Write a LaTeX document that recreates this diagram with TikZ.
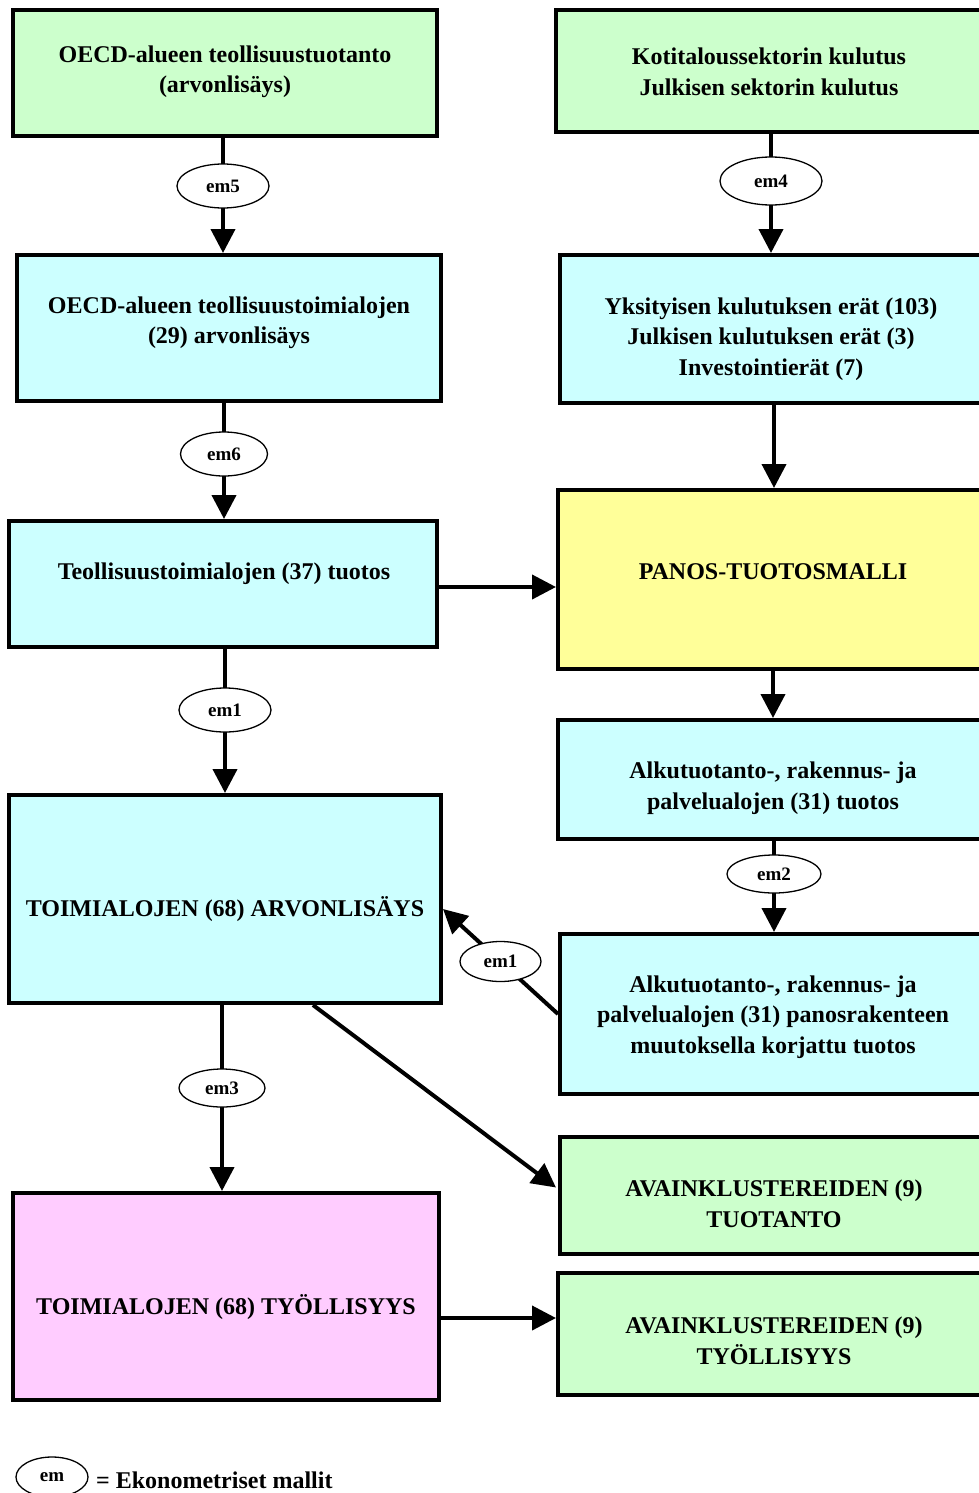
\documentclass[tikz,border=0pt]{standalone}
\usepackage{fontspec}
\setmainfont{Liberation Serif}
\usetikzlibrary{arrows.meta,shapes.geometric,calc}
\definecolor{cgreen}{HTML}{CCFFCC}
\definecolor{ccyan}{HTML}{CCFFFF}
\definecolor{cyellow}{HTML}{FFFF99}
\definecolor{cpink}{HTML}{FFCCFF}
\tikzset{
  box/.style={draw=black, line width=4pt, rectangle, inner sep=0pt},
  txt/.style={align=center, font=\fontsize{24}{30.5}\selectfont\bfseries, inner sep=0pt},
  emnode/.style={draw=black, line width=1.3pt, fill=white, ellipse, inner sep=0pt, font=\fontsize{19}{22}\selectfont\bfseries},
  arr/.style={line width=4pt, -{Triangle[length=24pt,width=24pt]}},
}
\begin{document}
\begin{tikzpicture}[x=1pt,y=-1pt]
\useasboundingbox (0,0) rectangle (979,1493);
\clip (0,0) rectangle (979,1493);
\fill[white] (0,0) rectangle (979,1493);
% boxes
\node[box, fill=cgreen, minimum width=424, minimum height=126] (b1) at (225,73) {};
\node[box, fill=cgreen, minimum width=428, minimum height=122] (b2) at (770,71) {};
\node[box, fill=ccyan, minimum width=424, minimum height=146] (b3) at (229,328) {};
\node[box, fill=ccyan, minimum width=424, minimum height=148] (b4) at (772,329) {};
\node[box, fill=ccyan, minimum width=428, minimum height=126] (b5) at (223,584) {};
\node[box, fill=cyellow, minimum width=426, minimum height=179] (b6) at (771,579.5) {};
\node[box, fill=ccyan, minimum width=426, minimum height=119] (b7) at (771,779.5) {};
\node[box, fill=ccyan, minimum width=432, minimum height=208] (b8) at (225,899) {};
\node[box, fill=ccyan, minimum width=424, minimum height=160] (b9) at (772,1014) {};
\node[box, fill=cgreen, minimum width=424, minimum height=117] (b10) at (772,1195.5) {};
\node[box, fill=cpink, minimum width=426, minimum height=207] (b11) at (226,1296.5) {};
\node[box, fill=cgreen, minimum width=426, minimum height=122] (b12) at (771,1334) {};
% texts
\node[txt] (t1) at (225,72) {OECD-alueen teollisuustuotanto\\(arvonlisäys)};
\node[txt] (t2) at (769,72) {Kotitaloussektorin kulutus\\Julkisen sektorin kulutus};
\node[txt] (t3) at (229,323) {OECD-alueen teollisuustoimialojen\\(29) arvonlisäys};
\node[txt] (t4) at (771,339) {Yksityisen kulutuksen erät (103)\\Julkisen kulutuksen erät (3)\\Investointierät (7)};
\node[txt] (t5) at (224,574) {Teollisuustoimialojen (37) tuotos};
\node[txt] (t6) at (773,572) {PANOS-TUOTOSMALLI};
\node[txt] (t7) at (773,788) {Alkutuotanto-, rakennus- ja\\palvelualojen (31) tuotos};
\node[txt] (t8) at (225,909) {TOIMIALOJEN (68) ARVONLISÄYS};
\node[txt] (t9) at (773,1017) {Alkutuotanto-, rakennus- ja\\palvelualojen (31) panosrakenteen\\muutoksella korjattu tuotos};
\node[txt] (t10) at (774,1204) {AVAINKLUSTEREIDEN (9)\\TUOTANTO};
\node[txt] (t11) at (226,1307) {TOIMIALOJEN (68) TYÖLLISYYS};
\node[txt] (t12) at (774,1341) {AVAINKLUSTEREIDEN (9)\\TYÖLLISYYS};
% ellipse positions
\coordinate (c5) at (223,186);
\coordinate (c4) at (771,181);
\coordinate (c6) at (224,454);
\coordinate (c1a) at (225,710);
\coordinate (c2) at (774,874);
\coordinate (c3) at (222,1088);
% connectors
\draw[arr] (c5 |- b1.south) -- (c5 |- b3.north);
\draw[arr] (c4 |- b2.south) -- (c4 |- b4.north);
\draw[arr] (c6 |- b3.south) -- (c6 |- b5.north);
\draw[arr] ([xshift=2pt]b4.south) -- ([xshift=2pt]b4.south |- b6.north);
\coordinate (p5) at ($(b5.east)+(0,3)$);
\draw[arr] (p5) -- (p5 -| b6.west);
\draw[arr] (c1a |- b5.south) -- (c1a |- b8.north);
\draw[arr] ([xshift=2pt]b6.south) -- ([xshift=2pt]b6.south |- b7.north);
\draw[arr] (c2 |- b7.south) -- (c2 |- b9.north);
\draw[arr] (b9.west) -- ($(b8.east)+(0,10)$);
\draw[arr] ($(b8.south)+(88,0)$) -- ($(b10.west)+(-2,-8)$);
\draw[arr] (c3 |- b8.south) -- (c3 |- b11.north);
\coordinate (p11) at ($(b11.east)+(0,21.5)$);
\draw[arr] (p11) -- (p11 -| b12.west);
% ellipses
\node[emnode, minimum width=92, minimum height=44] (e5) at (c5) {em5};
\node[emnode, minimum width=102, minimum height=48] (e4) at (c4) {em4};
\node[emnode, minimum width=87, minimum height=44] (e6) at (c6) {em6};
\node[emnode, minimum width=92, minimum height=44] (e1a) at (c1a) {em1};
\node[emnode, minimum width=94, minimum height=38] (e2) at (c2) {em2};
\node[emnode, minimum width=81, minimum height=40] (e1b) at ($(b9.west)!0.5!($(b8.east)+(0,10)$)$) {em1};
\node[emnode, minimum width=86, minimum height=38] (e3) at (c3) {em3};
% legend
\node[emnode, minimum width=72, minimum height=40] (le) at (52,1477) {em};
\node[txt, anchor=west] (lt) at (96,1480) {= Ekonometriset mallit};
\end{tikzpicture}
\end{document}
